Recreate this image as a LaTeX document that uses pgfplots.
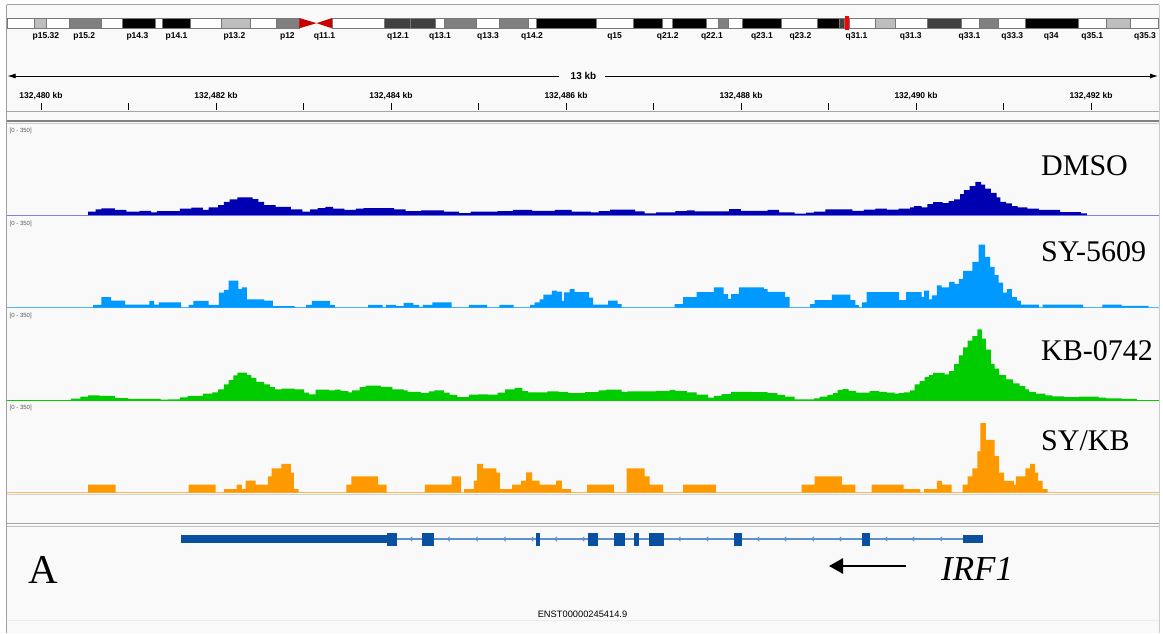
\documentclass[border=0pt]{standalone}
\usepackage{fontspec}
\setmainfont{Liberation Serif}
\newfontfamily\igv{Liberation Sans}
\usepackage{pgfplots}
\pgfplotsset{compat=1.18}
\usetikzlibrary{arrows.meta}

\definecolor{bg}{RGB}{249,249,249}
\definecolor{frame}{RGB}{160,160,160}
\definecolor{dmso}{RGB}{0,0,178}
\definecolor{dmsoL}{RGB}{130,130,225}
\definecolor{sy}{RGB}{0,153,255}
\definecolor{syL}{RGB}{80,180,255}
\definecolor{kb}{RGB}{0,204,0}
\definecolor{sykb}{RGB}{255,153,0}
\definecolor{sykbL}{RGB}{255,185,90}
\definecolor{gene}{RGB}{10,80,160}
\definecolor{intron}{RGB}{95,145,205}
\definecolor{gL}{RGB}{190,190,190}
\definecolor{gM}{RGB}{128,128,128}
\definecolor{gD}{RGB}{64,64,64}
\definecolor{cen}{RGB}{200,0,0}
\definecolor{bandline}{RGB}{120,120,120}

\pgfdeclareplotmark{chev}{%
  \pgfpathmoveto{\pgfqpoint{1.3pt}{2.2pt}}%
  \pgfpathlineto{\pgfqpoint{-1.2pt}{0pt}}%
  \pgfpathlineto{\pgfqpoint{1.3pt}{-2.2pt}}%
  \pgfusepathqstroke}

\pgfplotsset{
  base/.style={anchor=south west, width=1163pt, scale only axis,
    xmin=0, xmax=1163, clip=false},
  trk/.style={base, at={(0pt,-#1pt)}, height=92.5pt, ymin=0, ymax=350, hide axis},
}
\newcommand\band[3]{\addplot[fill=#3, draw=bandline, line width=0.5pt] coordinates {(#1,1) (#2,1)} \closedcycle;}
\newcommand\exon[2]{\addplot[gene, line width=13pt] coordinates {(#1,0) (#2,0)};}

\begin{document}
\begin{tikzpicture}
\useasboundingbox (0pt,0pt) rectangle (1163pt,-633pt);
\begin{scope}[x=1pt,y=1pt]
\fill[white] (0,0) rectangle (1163,-633);
\fill[bg] (6.5,-4.5) rectangle (1159,-633);
\end{scope}

% ---------------- ideogram ----------------
\begin{axis}[base, at={(0pt,-28.3pt)}, height=10.3pt, ymin=0, ymax=1, hide axis]
\band{6.9}{34.4}{white}
\band{34.4}{46.7}{gL}
\band{46.7}{69.7}{white}
\band{69.7}{101.4}{gM}
\band{101.4}{122.5}{white}
\band{122.5}{155}{black}
\band{155}{162.6}{white}
\band{162.6}{190.2}{black}
\band{190.2}{220.8}{white}
\band{220.8}{250.7}{gL}
\band{250.7}{276.3}{white}
\band{276.3}{299.3}{gM}
\addplot[fill=cen, draw=none] coordinates {(299.3,0) (299.3,1) (316.5,0.5)};
\addplot[fill=cen, draw=none] coordinates {(332.2,0) (332.2,1) (316.5,0.5)};
\band{332.2}{384.6}{white}
\band{384.6}{410}{gD}
\band{410}{435.1}{gD}
\band{435.1}{444.7}{white}
\band{444.7}{476.5}{gM}
\band{476.5}{499.4}{white}
\band{499.4}{528.1}{gM}
\band{528.1}{535.8}{white}
\band{535.8}{596.5}{black}
\band{596.5}{633}{white}
\band{633}{662}{black}
\band{662}{672.7}{white}
\band{672.7}{706.2}{black}
\band{706.2}{718.5}{white}
\band{718.5}{728.5}{gM}
\band{728.5}{741.9}{white}
\band{741.9}{781.2}{black}
\band{781.2}{817.7}{white}
\band{817.7}{839.6}{black}
\band{839.6}{844.6}{gD}
\band{844.6}{849.2}{white}
\band{849.2}{875.4}{white}
\band{875.4}{895.4}{gL}
\band{895.4}{927.3}{white}
\band{927.3}{960.8}{gD}
\band{960.8}{979.2}{white}
\band{979.2}{998.5}{gM}
\band{998.5}{1025.4}{white}
\band{1025.4}{1078.5}{black}
\band{1078.5}{1106.2}{white}
\band{1106.2}{1130}{gL}
\band{1130}{1158}{white}
\addplot[fill=red, draw=none] coordinates {(844.6,-0.2) (849.2,-0.2) (849.2,1.2) (844.6,1.2)};
\end{axis}

% ---------------- ruler ----------------
\begin{axis}[base, at={(0pt,-110pt)}, height=7pt, ymin=0, ymax=1,
  axis line style={draw=none}, ytick=\empty,
  xtick={41,216,391,566,741,916,1091},
  xticklabels={{132,480 kb},{132,482 kb},{132,484 kb},{132,486 kb},{132,488 kb},{132,490 kb},{132,492 kb}},
  minor xtick={128.5,303.5,478.5,653.5,828.5,1003.5},
  xmajorgrids, xminorgrids,
  major grid style={black, line width=0.8pt},
  minor grid style={black, line width=0.8pt},
  major tick length=0pt, minor tick length=0pt,
  xticklabel pos=upper,
  xticklabel style={font=\igv\bfseries\fontsize{8.5}{9}\selectfont, anchor=base, inner sep=0pt, yshift=4.7pt}]
\addplot[draw=none] coordinates {(0,0) (1163,1)};
\end{axis}

% ---------------- DMSO ----------------
\begin{axis}[trk=215]
\addplot[dmsoL, line width=1pt] coordinates {(6.5,0) (1159,0)};
\addplot[const plot, fill=dmso, draw=none] coordinates {
(88,12.5) (95.7,21) (101.4,25) (114.8,19) (126.3,12.5) (139.7,16) (151.2,10) (156.9,15) (179.9,24) (191.4,27.6) (202.8,19) (208.6,29) (218.1,37.6) (223.9,50) (229.6,59) (237.3,66.5) (252.6,60) (258.3,50) (264.1,37.6) (275.5,31) (290.9,21) (302.3,12.5) (310,21) (317.6,26) (325.3,31) (333,24) (344.4,19) (355.9,24) (363.6,26) (394.2,21) (405.7,15) (421,17.5) (443.9,12.5) (459.2,7.5) (470.7,12.5) (497.5,15) (512.8,19) (532,16) (554.9,19) (571.5,12.5) (590.8,10) (598.5,15) (610,20) (635,14) (644.6,6) (656.2,10) (675.4,15) (686.9,17.5) (694.6,14) (729.2,22.6) (740.8,16) (767.7,19) (779.2,10) (794.6,5) (806.2,9) (813.8,12.5) (825.4,21) (852.3,16) (863.8,20) (875.4,24) (886.9,20) (898.5,24) (910,29) (913.8,34) (921.5,29) (927.3,41) (933.1,49) (942.7,45) (948.5,53) (954.2,59) (960,79) (963.8,94) (969.6,109) (975.4,125) (981.2,115) (985,100) (990.8,84) (996.5,66.5) (1000.4,50) (1006.2,44) (1011.9,34) (1017.7,29) (1027.3,24) (1038.8,19) (1060,11) (1081.2,6) (1086.9,0)
} \closedcycle;
\end{axis}

% ---------------- SY-5609 ----------------
\begin{axis}[trk=307.5]
\addplot[syL, line width=1pt] coordinates {(6.5,0) (1159,0)};
\addplot[const plot, fill=sy, draw=none] coordinates {
(93,10) (101.4,39) (111,26) (125.1,11) (149.3,25) (154.2,11) (158.8,19) (181,0) (188.7,10) (193.3,25) (208.6,10) (218.9,56) (223.9,66.5) (228.5,101.6) (238.4,70) (241.9,76.5) (246.8,31) (264.1,26) (272.9,5) (294.7,0) (306.2,10) (311.9,25) (329.9,10) (334.9,0) (368.2,10) (382.7,0) (385.8,10) (396.1,5) (403.7,17.5) (413.3,10) (419.1,2.5) (422.9,10) (432.4,19) (451.6,0) (468.8,10) (487.2,0) (499.4,10) (513.6,0) (530,10) (534.6,19) (539.6,31) (543.4,49) (551.9,64) (556.8,60) (561.8,25) (564,57) (569.5,70) (574.7,58) (589,37) (593,11) (608.1,26) (617.7,12.5) (621.5,0) (674.6,12.5) (683.1,39) (696.5,58) (713.8,76.5) (723.5,51) (728.1,32.6) (731.2,51) (738.8,76.5) (763.8,70) (767.7,59) (785,39) (789.6,0) (810,12.5) (814.6,27.6) (831.9,49) (850.4,27.6) (855.4,9) (859.2,0) (861.9,19) (866.5,58) (899.2,27.6) (906.2,58) (921.5,39) (924.2,64) (929.2,31) (931.9,46) (936.9,84) (941.5,76.5) (949.2,97) (954.6,89) (958.8,108) (963.1,139) (972.3,173) (978.5,238) (985,192) (990,154) (994.6,123) (998.5,94) (1003.1,56) (1006.9,70) (1011.9,39) (1016.9,26) (1020.8,11) (1038.8,0) (1042.7,11) (1083.1,0) (1102.3,11) (1121.5,6) (1148.5,0)
} \closedcycle;
\end{axis}

% ---------------- KB-0742 ----------------
\begin{axis}[trk=400]
\addplot[kb, line width=1pt] coordinates {(6.5,0) (1159,0)};
\addplot[const plot, fill=kb, draw=none] coordinates {
(70.8,5) (80.4,12.5) (88,17.6) (99.5,16) (114.8,7.5) (128.2,4) (160.7,1) (168.4,2.5) (179.9,10) (187.5,16) (202.8,24) (212.4,29) (218.1,40) (223.9,59) (228.5,75) (233.4,93) (237.3,104) (246.8,94) (251.4,84) (256.4,69) (264.1,59) (269.8,49) (274.8,40) (281.3,43) (294.7,40) (304.2,27.6) (309.2,21) (315.7,39) (329.1,36) (334.9,39) (340.6,34) (348.3,29) (352.1,36) (359.7,49) (365.5,54) (380.8,50) (392.3,40) (403.7,36) (407.6,31) (421,26) (428.6,33) (434.4,36) (443.9,27.6) (449.7,19) (457.3,11) (468.8,20) (478.4,21) (487.9,20) (497.5,27.6) (505.2,40) (514.7,46) (522.4,34) (528.1,29) (547.3,33) (558.7,31) (568,26) (585,30) (598.5,36) (606.2,39) (621.5,31) (627.3,33) (656.2,34) (669.6,38) (675.4,34) (686.9,29) (696.5,20) (708.1,9) (713.8,16) (721.5,22.6) (731.2,31) (752.3,30) (767.7,26) (777.3,19) (785,12.5) (794.6,2.5) (813.8,6) (819.6,12.5) (827.3,19) (833.1,26) (837.7,38) (842.7,41) (848.5,35) (856.2,27.6) (869.6,34) (879.2,31) (886.9,27.6) (894.6,24) (898.5,26) (904.2,29) (910,36) (914.6,59) (919.6,71.5) (924.6,87) (929.2,94) (933.1,103) (944.6,97) (949.2,109) (954.2,137) (958.8,169) (963.1,199) (967.7,225) (972.3,242) (977.3,267) (981.9,232) (985.8,191) (990.8,137) (994.6,119) (999.2,94) (1006.2,78) (1013.1,63) (1019.6,53) (1025.4,40) (1029.2,31) (1035.8,24) (1045.4,17.6) (1052.3,14) (1063.8,11) (1079.2,12.5) (1098.5,9) (1106.2,6) (1121.5,4) (1136.9,0)
} \closedcycle;
\end{axis}

% ---------------- SY/KB ----------------
\begin{axis}[trk=492.5]
\addplot[sykbL, line width=1pt] coordinates {(6.5,0) (1159,0)};
\addplot[const plot, fill=sykb, draw=none] coordinates {
(88,30) (115.6,0) (188.7,30) (215.5,0) (223.9,12.5) (236.5,30) (241.9,12.5) (245.7,45) (255.6,30) (267.9,61.5) (271.7,91.6) (281.3,108) (290.9,75) (293.9,12.5) (298.5,0) (346.3,30) (351.3,61.5) (378.1,30) (386.5,0) (424.8,30) (451.6,61.5) (461.2,0) (464.2,12.5) (473.8,45) (477.2,108) (483,91.6) (496.4,75) (499.8,12.5) (512.1,30) (521.2,45) (526.2,76.5) (532,45) (539.6,30) (556.1,45) (561.8,12.5) (571,0) (587,30) (614,0) (626.5,91.6) (644.6,61.5) (649.6,30) (663,0) (683,30) (715.8,0) (801.5,30) (814.6,61.5) (841.9,30) (855.4,0) (871.5,30) (903.5,12.5) (920.4,0) (924.2,12.5) (936.9,44) (941.9,30) (951.5,0) (962.7,30) (967.7,61.5) (972.3,91.6) (977.3,155.6) (980.4,263) (985.8,199.5) (994.6,138) (999.2,75) (1004.2,44) (1013.8,30) (1015.8,61.5) (1025.4,91.6) (1030,108) (1035,75) (1038.1,44) (1042.7,12.5) (1047.7,0)
} \closedcycle;
\end{axis}

% ---------------- gene ----------------
\begin{axis}[base, at={(0pt,-549pt)}, height=20pt, ymin=-10, ymax=10, hide axis]
\addplot[intron, line width=1.2pt] coordinates {(181,0) (983,0)};
\addplot[intron, only marks, mark=chev, mark options={line width=0.8pt}] coordinates {
(411,0) (448.5,0) (476.5,0) (504.4,0) (532,0) (555.7,0) (583,0) (679.2,0) (707,0) (758,0) (785,0) (812.7,0) (840,0) (886,0) (913,0) (940.8,0)};
\addplot[gene, line width=8pt] coordinates {(181,0) (386.5,0)};
\exon{386.5}{397}
\exon{421.7}{433.6}
\exon{535.8}{540.4}
\exon{587.7}{597.7}
\exon{613.8}{625.4}
\exon{634.2}{638.8}
\exon{648.5}{663.8}
\exon{733.8}{741.9}
\exon{862}{869.6}
\addplot[gene, line width=8pt] coordinates {(962.7,0) (983,0)};
\end{axis}

% ---------------- decorations and text ----------------
\begin{scope}[x=1pt,y=1pt]
\draw[frame, line width=1pt] (6.5,-4.5) -- (1159,-4.5);
\draw[frame, line width=1pt] (6.5,-4.5) -- (6.5,-633);
\draw[gray!40, line width=1pt] (1159,-4.5) -- (1159,-633);
% band labels
\begin{scope}[every node/.style={font=\igv\bfseries\fontsize{8.5}{9}\selectfont, anchor=base, inner sep=0pt}]
\node at (45.9,-38.3) {p15.32};
\node at (84.2,-38.3) {p15.2};
\node at (137.4,-38.3) {p14.3};
\node at (176.6,-38.3) {p14.1};
\node at (234.4,-38.3) {p13.2};
\node at (287.4,-38.3) {p12};
\node at (324.5,-38.3) {q11.1};
\node at (398,-38.3) {q12.1};
\node at (440.1,-38.3) {q13.1};
\node at (488,-38.3) {q13.3};
\node at (532,-38.3) {q14.2};
\node at (614.6,-38.3) {q15};
\node at (667.7,-38.3) {q21.2};
\node at (711.9,-38.3) {q22.1};
\node at (761.9,-38.3) {q23.1};
\node at (800.4,-38.3) {q23.2};
\node at (856.5,-38.3) {q31.1};
\node at (910.8,-38.3) {q31.3};
\node at (969.6,-38.3) {q33.1};
\node at (1012.3,-38.3) {q33.3};
\node at (1051.2,-38.3) {q34};
\node at (1092.3,-38.3) {q35.1};
\node at (1145,-38.3) {q35.3};
\end{scope}
% scale bar
\draw[line width=0.9pt, {Latex[length=8pt,width=5pt]}-] (7.5,-76) -- (558.7,-76);
\draw[line width=0.9pt, -{Latex[length=8pt,width=5pt]}] (605,-76) -- (1158,-76);
\node[font=\igv\bfseries\fontsize{10}{11}\selectfont, inner sep=0pt] at (583.5,-76) {13 kb};
% separators
\draw[gray!70, line width=1pt] (6.5,-111.7) -- (1159,-111.7);
\draw[gray, line width=2pt] (6.5,-121) -- (1159,-121);
\draw[gray!40, line width=1pt] (6.5,-123.5) -- (1159,-123.5);
\draw[gray!35, line width=1pt] (6.5,-494) -- (1159,-494);
\draw[gray!70, line width=1pt] (6.5,-523.5) -- (1159,-523.5);
\draw[gray!50, line width=1pt] (6.5,-526.5) -- (1159,-526.5);
\draw[gray!15, line width=1pt] (6.5,-620) -- (1159,-620);
% data range labels
\begin{scope}[every node/.style={font=\igv\fontsize{6}{6}\selectfont, text=gray!70!black, anchor=west, inner sep=0pt}]
\node at (9.5,-130.5) {[0 - 350]};
\node at (9.5,-224) {[0 - 350]};
\node at (9.5,-316) {[0 - 350]};
\node at (9.5,-407.5) {[0 - 350]};
\end{scope}
% track names
\begin{scope}[every node/.style={font=\fontsize{30}{32}\selectfont, anchor=base west, inner sep=0pt}]
\node at (1041,-175) {DMSO};
\node at (1041,-261.7) {SY-5609};
\node at (1041,-360) {KB-0742};
\node at (1041,-450) {SY/KB};
\end{scope}
% gene annotations
\node[font=\fontsize{41}{42}\selectfont, anchor=base west, inner sep=0pt] at (28.7,-583) {A};
\node[font=\itshape\fontsize{35}{36}\selectfont, anchor=base west, inner sep=0pt] at (941,-580) {IRF1};
\draw[line width=2.6pt, -{Triangle[length=14pt,width=15pt]}] (906,-566) -- (829,-566);
\node[font=\igv\fontsize{9.3}{10}\selectfont, inner sep=0pt] at (582.5,-614) {ENST00000245414.9};
\end{scope}
\end{tikzpicture}
\end{document}
